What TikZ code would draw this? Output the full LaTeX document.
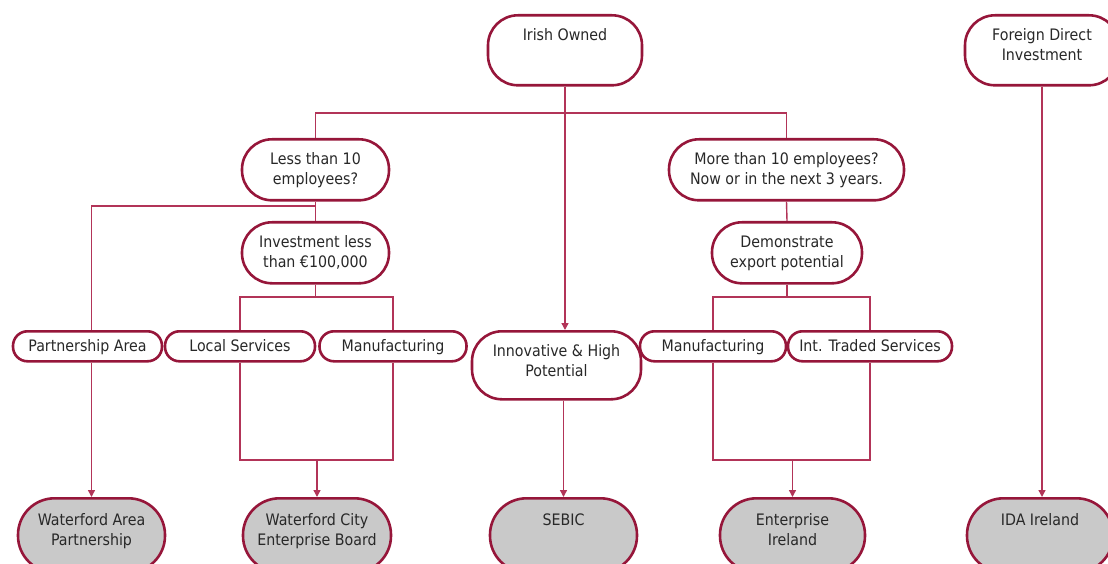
\documentclass[tikz,border=0pt]{standalone}
\usepackage{fontspec}
\setmainfont{DejaVu Sans Condensed}
\usepackage{xcolor}
\usepackage{tikz}
\usetikzlibrary{positioning,arrows.meta}
\definecolor{bred}{RGB}{150,22,58}
\definecolor{lred}{RGB}{178,52,88}
\definecolor{agray}{RGB}{201,201,201}
\definecolor{tgray}{RGB}{40,40,40}
\newcommand{\boxtext}[1]{\begin{tabular}[t]{@{}c@{}}#1\end{tabular}}

\begin{document}
\begin{tikzpicture}[x=1pt, y=-1pt,
    >={Triangle[length=7pt, width=7pt]},
    % Box styles
    box/.style={draw=bred, line width=2.6pt, fill=white, text=tgray,
                font=\fontsize{15.8}{20}\selectfont, inner xsep=0pt, inner ysep=0pt,
                anchor=north},
    tall/.style={box, rounded corners=30pt, text height=25pt},
    small/.style={box, rounded corners=14.5pt, text height=20pt, text depth=10pt},
    agency/.style={box, fill=agray, rounded corners=36.5pt, text height=27pt, text depth=47pt},
    link/.style={draw=lred, line width=1.4pt},
    arrow/.style={->, draw=lred, fill=lred, line width=1.4pt},
  ]
  \useasboundingbox (0,0) rectangle (1108,564);

  % ===== TOP: ownership =====
  \node[tall, minimum width=154pt, text depth=45pt] (irish) at (565,14) {\boxtext{Irish Owned}};
  \node[tall, minimum width=154pt, text depth=45pt] (fdi) at (1042,14) {\boxtext{Foreign Direct\\Investment}};

  % ===== Questions =====
  \node[tall, minimum width=147pt, text depth=36pt] (less10) at (315.5,138) {\boxtext{Less than 10\\employees?}};
  \node[tall, minimum width=235pt, text depth=36pt] (more10) at (786.5,138) {\boxtext{More than 10 employees?\\Now or in the next 3 years.}};
  \node[tall, minimum width=147pt, text depth=36pt] (invest) at (315.5,221) {\boxtext{Investment less\\than €100,000}};
  \node[tall, minimum width=150pt, text depth=36pt] (export) at (787,221) {\boxtext{Demonstrate\\export potential}};

  % ===== Categories =====
  \node[small, minimum width=149pt] (partner) at (87.5,330) {\boxtext{Partnership Area}};
  \node[small, minimum width=150pt] (localsvc) at (240,330) {\boxtext{Local Services}};
  \node[small, minimum width=147pt] (manuf1) at (393,330) {\boxtext{Manufacturing}};
  \node[tall, minimum width=169pt, text depth=43pt] (innov) at (556.5,330) {\boxtext{Innovative \& High\\Potential}};
  \node[small, minimum width=146pt] (manuf2) at (713,330) {\boxtext{Manufacturing}};
  \node[small, minimum width=164pt] (traded) at (870,330) {\boxtext{Int. Traded Services}};

  % ===== BOTTOM: agencies =====
  \node[agency, minimum width=147pt] (wap) at (91.5,497) {\boxtext{Waterford Area\\Partnership}};
  \node[agency, minimum width=148pt] (wceb) at (317,497) {\boxtext{Waterford City\\Enterprise Board}};
  \node[agency, minimum width=147pt] (sebic) at (563.5,497) {\boxtext{SEBIC}};
  \node[agency, minimum width=145pt] (ei) at (792.5,497) {\boxtext{Enterprise\\Ireland}};
  \node[agency, minimum width=146pt] (ida) at (1040,497) {\boxtext{IDA Ireland}};

  % Junctions
  \coordinate (split) at (565,113);
  \coordinate (lsplit) at (315.5,206);
  \coordinate (isplit) at (315.5,297);
  \coordinate (esplit) at (787,297);
  \coordinate (ljoin) at (317,460);
  \coordinate (rjoin) at (792.5,460);

  % Irish owned tree
  \draw[arrow] (irish.south) -- (irish.south |- innov.north);
  \draw[link] (less10.north) |- (split) -| (more10.north);
  \draw[arrow] (sebic.north |- innov.south) -- (sebic.north);

  % Less than 10 branch
  \draw[link] (less10.south) -- (invest.north);
  \draw[link] (lsplit) -| (wap.north |- partner.north);
  \draw[arrow] (wap.north |- partner.south) -- (wap.north);
  \draw[link] (invest.south) -- (isplit);
  \draw[link] (localsvc.north) |- (isplit) -| (manuf1.north);
  \draw[link] (localsvc.south) |- (ljoin) -| (manuf1.south);
  \draw[arrow] (ljoin) -- (wceb.north);

  % More than 10 branch
  \draw[link] (more10.south) -- (export.north);
  \draw[link] (export.south) -- (esplit);
  \draw[link] (manuf2.north) |- (esplit) -| (traded.north);
  \draw[link] (manuf2.south) |- (rjoin) -| (traded.south);
  \draw[arrow] (rjoin) -- (ei.north);

  % Foreign direct investment
  \draw[arrow] (fdi.south) -- (fdi.south |- ida.north);

\end{tikzpicture}
\end{document}
